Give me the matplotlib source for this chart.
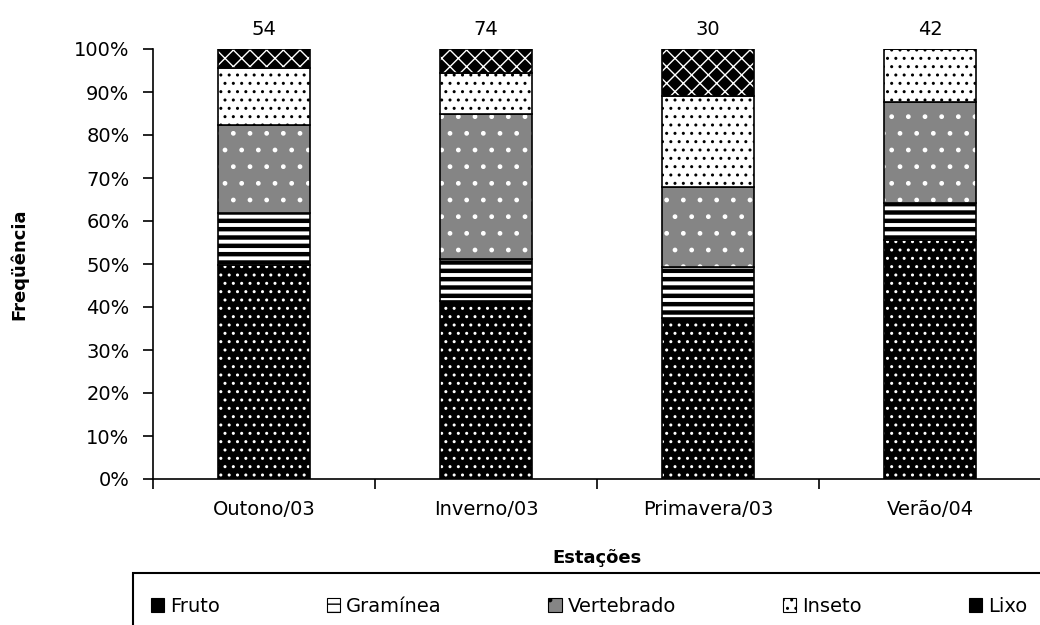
import matplotlib

matplotlib.use("Agg")
import matplotlib.pyplot as plt
from matplotlib.patches import Patch, Rectangle
import numpy as np

plt.rcParams["font.family"] = ["DejaVu Sans"]

estacoes = ["Outono/03", "Inverno/03", "Primavera/03", "Verão/04"]
totais = [54, 74, 30, 42]

# percentage of each item per season (stacked bottom to top)
fruto = [49.8, 41.4, 37.4, 55.6]
graminea = [12.1, 9.8, 11.9, 8.6]
vertebrado = [20.4, 33.8, 18.6, 23.5]
inseto = [13.3, 9.4, 21.2, 12.3]
lixo = [4.4, 5.6, 10.9, 0.0]

itens = ["Fruto", "Gramínea", "Vertebrado", "Inseto", "Lixo"]
series = [fruto, graminea, vertebrado, inseto, lixo]

# face colour, hatch, hatch colour, hatch line width
estilos = [
    ("black", "..", "white", 1.0),
    ("white", "--", "black", 3.2),
    ("#858585", ".", "white", 1.0),
    ("white", "..", "black", 1.0),
    ("black", "xx", "white", 1.0),
]

fig = plt.figure(figsize=(10.4, 6.25), dpi=100)
ax = fig.add_axes([153 / 1040, 1 - 479 / 625, 888 / 1040, 430 / 625])

x = np.arange(len(estacoes))
largura = 0.41
base = np.zeros(len(estacoes))
for vals, (face, hatch, hcor, hlw) in zip(series, estilos):
    vals = np.array(vals)
    with plt.rc_context({"hatch.linewidth": hlw}):
        bars = ax.bar(x, vals, largura, bottom=base, color=face, hatch=hatch,
                      edgecolor=hcor, linewidth=0)
    for b in bars:
        if hasattr(b, "set_hatch_linewidth"):
            b.set_hatch_linewidth(hlw)
    ax.bar(x, vals, largura, bottom=base, fill=False, edgecolor="black",
           linewidth=1.2)
    base += vals

for xi, n in zip(x, totais):
    ax.annotate(str(n), (xi, 100), xytext=(0, 14), textcoords="offset points",
                ha="center", va="center", fontsize=14)

ax.set_xlim(-0.5, len(estacoes) - 0.5)
ax.set_ylim(0, 100)
ax.set_yticks(np.arange(0, 101, 10))
ax.set_yticklabels([f"{v}%" for v in range(0, 101, 10)], fontsize=14)
ax.set_xticks(np.arange(-0.5, len(estacoes), 1.0))
ax.set_xticklabels([])
ax.set_xticks(x, minor=True)
ax.set_xticklabels(estacoes, minor=True, fontsize=14)
ax.tick_params(axis="both", which="major", direction="out", length=7,
               width=1.2, color="black")
ax.tick_params(axis="x", which="minor", length=0, pad=15)
ax.tick_params(axis="y", pad=10)
for s in ["top", "right"]:
    ax.spines[s].set_visible(False)
for s in ["left", "bottom"]:
    ax.spines[s].set_linewidth(1.2)

ax.set_ylabel("Freqüência", fontsize=13, fontweight="bold", va="center")
ax.yaxis.set_label_coords(-0.151, 0.5)
ax.set_xlabel("Estações", fontsize=13, fontweight="bold")
ax.xaxis.set_label_coords(0.5, -0.163)

# legend row with an open box running off the lower right edge
fig.add_artist(Rectangle((133 / 1040, -0.2), 1.0, 0.2 + 1 - 573 / 625,
                         transform=fig.transFigure, fill=False,
                         edgecolor="black", linewidth=1.5, clip_on=False))
handles = [Patch(facecolor=f, hatch=h, edgecolor="black", linewidth=0.8)
           for f, h, _, _ in estilos]
fig.legend(handles, itens, loc="center left", mode="expand",
           bbox_to_anchor=(143 / 1040, 1 - 606 / 625, 892 / 1040, 0.0),
           ncol=5, frameon=False, fontsize=14, handlelength=0.7,
           handleheight=0.7, handletextpad=0.3, borderaxespad=0.0)

fig.savefig("out.png", dpi=100)
